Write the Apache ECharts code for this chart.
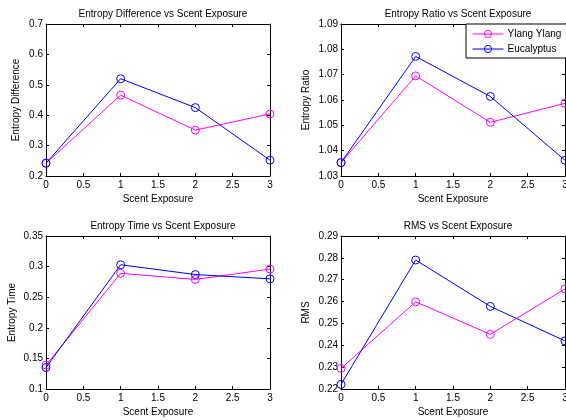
<!DOCTYPE html>
<html>
<head>
<meta charset="utf-8">
<script src="https://cdn.jsdelivr.net/npm/echarts@6/dist/echarts.min.js"></script>
<style>
html,body{margin:0;padding:0;background:#fff;}
#chart{width:566px;height:420px;}
</style>
</head>
<body>
<div id="chart"></div>
<script>
// Data
const exposure = [0, 1, 2, 3];
const seriesNames = ['Ylang Ylang', 'Eucalyptus'];

const entropyDiffYlang = [0.242, 0.466, 0.351, 0.404];
const entropyDiffEuca  = [0.242, 0.520, 0.425, 0.252];

const entropyRatioYlang = [1.0353, 1.0695, 1.0512, 1.0587];
const entropyRatioEuca  = [1.0353, 1.0772, 1.0614, 1.0362];

const entropyTimeYlang = [0.139, 0.289, 0.279, 0.296];
const entropyTimeEuca  = [0.135, 0.303, 0.287, 0.280];

const rmsYlang = [0.2294, 0.2599, 0.2450, 0.2658];
const rmsEuca  = [0.2221, 0.2790, 0.2578, 0.2420];

const panelTitles = ['Entropy Difference vs Scent Exposure', 'Entropy Ratio vs Scent Exposure',
                     'Entropy Time vs Scent Exposure', 'RMS vs Scent Exposure'];
const yNames = ['Entropy Difference', 'Entropy Ratio', 'Entropy Time', 'RMS'];
const xName = 'Scent Exposure';
const yRanges = [[0.2, 0.7, 0.1], [1.03, 1.09, 0.01], [0.1, 0.35, 0.05], [0.22, 0.29, 0.01]];
const panelData = [
  [entropyDiffYlang, entropyDiffEuca],
  [entropyRatioYlang, entropyRatioEuca],
  [entropyTimeYlang, entropyTimeEuca],
  [rmsYlang, rmsEuca]
];

const colors = ['#ff00ff', '#0000ff'];
const FONT = 'Liberation Sans, Arial, Helvetica, sans-serif';

const grids = [
  {left: 46, top: 24, width: 224, height: 152, outerBoundsMode: 'none', containLabel: false},
  {left: 341, top: 24, width: 224, height: 152, outerBoundsMode: 'none', containLabel: false},
  {left: 46, top: 236, width: 224, height: 153, outerBoundsMode: 'none', containLabel: false},
  {left: 341, top: 236, width: 224, height: 153, outerBoundsMode: 'none', containLabel: false}
];
const yNameGaps = [25, 30, 29, 30];
const titleTops = [4, 4, 216, 216];

const chart = echarts.init(document.getElementById('chart'));

const xAxes = [], yAxes = [], series = [], titles = [];
const lineStyleAxis = {color: '#000', width: 1};
grids.forEach((g, i) => {
  const [ymin, ymax, yint] = yRanges[i];
  titles.push({
    text: panelTitles[i],
    left: g.left + g.width / 2,
    top: titleTops[i],
    textAlign: 'center',
    textStyle: {fontFamily: FONT, fontSize: 10, fontWeight: 'normal', color: '#000'}
  });
  xAxes.push({
    gridIndex: i, type: 'value', min: 0, max: 3, interval: 0.5, position: 'bottom',
    name: xName, nameLocation: 'middle', nameGap: 18,
    nameTextStyle: {fontFamily: FONT, fontSize: 10, color: '#000'},
    axisLine: {show: true, onZero: false, lineStyle: lineStyleAxis},
    axisTick: {show: true, inside: true, length: 3, lineStyle: lineStyleAxis},
    axisLabel: {fontFamily: FONT, fontSize: 10, color: '#000', margin: 4},
    splitLine: {show: false}
  });
  xAxes.push({
    gridIndex: i, type: 'value', min: 0, max: 3, interval: 0.5, position: 'top',
    axisLine: {show: true, onZero: false, lineStyle: lineStyleAxis},
    axisTick: {show: true, inside: true, length: 3, lineStyle: lineStyleAxis},
    axisLabel: {show: false}, splitLine: {show: false}
  });
  yAxes.push({
    gridIndex: i, type: 'value', min: ymin, max: ymax, interval: yint, position: 'left',
    name: yNames[i], nameLocation: 'middle', nameGap: yNameGaps[i],
    nameTextStyle: {fontFamily: FONT, fontSize: 10, color: '#000'},
    axisLine: {show: true, onZero: false, lineStyle: lineStyleAxis},
    axisTick: {show: true, inside: true, length: 3, lineStyle: lineStyleAxis},
    axisLabel: {fontFamily: FONT, fontSize: 10, color: '#000', margin: 3},
    splitLine: {show: false}
  });
  yAxes.push({
    gridIndex: i, type: 'value', min: ymin, max: ymax, interval: yint, position: 'right',
    axisLine: {show: true, onZero: false, lineStyle: lineStyleAxis},
    axisTick: {show: true, inside: true, length: 3, lineStyle: lineStyleAxis},
    axisLabel: {show: false}, splitLine: {show: false}
  });
  panelData[i].forEach((vals, s) => {
    series.push({
      name: seriesNames[s],
      type: 'line',
      xAxisIndex: i * 2,
      yAxisIndex: i * 2,
      data: exposure.map((x, k) => [x, vals[k]]),
      symbol: 'circle',
      symbolSize: 8,
      color: colors[s],
      lineStyle: {color: colors[s], width: 1},
      itemStyle: {color: 'rgba(255,255,255,0)', borderColor: colors[s], borderWidth: 1},
      emphasis: {disabled: true},
      animation: false,
      z: 3 + s
    });
  });
});

chart.setOption({
  backgroundColor: '#fff',
  animation: false,
  title: titles,
  grid: grids,
  xAxis: xAxes,
  yAxis: yAxes,
  legend: {
    data: seriesNames,
    orient: 'vertical',
    left: 466, top: 24,
    width: 98,
    padding: [5, 6, 4, 6],
    itemGap: 5,
    itemWidth: 31, itemHeight: 9,
    borderColor: '#000', borderWidth: 1,
    backgroundColor: '#fff',
    itemStyle: {color: 'rgba(255,255,255,0)', borderWidth: 1},
    lineStyle: {width: 1},
    textStyle: {fontFamily: FONT, fontSize: 10, color: '#000', padding: [0, 0, 0, -1]}
  },
  series: series
});
</script>
</body>
</html>
